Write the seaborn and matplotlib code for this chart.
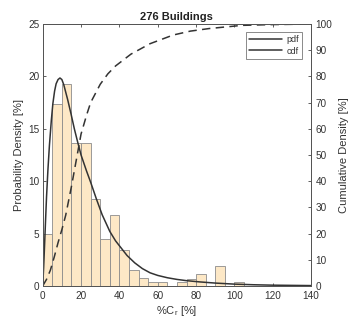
import numpy as np
import pandas as pd
import matplotlib
matplotlib.use("Agg")
import matplotlib.pyplot as plt
from matplotlib.lines import Line2D
import seaborn as sns

# ---- data ----
bin_left = [0, 5, 10, 15, 20, 25, 30, 35, 40, 45, 50, 55, 60, 65, 70, 75, 80, 85, 90, 95, 100]
bin_pct = [5.0, 17.4, 19.3, 13.6, 13.6, 8.3, 4.5, 6.8, 3.4, 1.5, 0.75, 0.35, 0.35, 0.0,
           0.35, 0.7, 1.1, 0.0, 1.9, 0.0, 0.35]

pdf_x = [0, 0.5, 1, 1.5, 2, 2.7, 3.5, 4.5, 5.3, 6.2, 7, 8, 9, 10, 11, 12, 13, 14.8,
         16.5, 18, 20, 22.8, 25, 28, 31, 35, 38, 41, 44, 48, 52, 56, 60, 65, 70, 75,
         82, 90, 100, 110, 120, 130, 140]
pdf_y = [0, 1.8, 4, 6.3, 8.5, 11, 13.4, 15.8, 17.4, 18.6, 19.3, 19.7, 19.85, 19.7,
         19.2, 18.5, 17.8, 16.4, 15.0, 13.9, 12.5, 11.0, 9.9, 8.3, 6.8, 5.2, 4.3, 3.6,
         2.9, 2.2, 1.65, 1.25, 1.0, 0.78, 0.62, 0.5, 0.38, 0.27, 0.17, 0.11, 0.07,
         0.05, 0.03]

cdf_x = [0, 2, 4, 6, 8, 10, 12, 15, 18, 20, 23, 25, 30, 34, 38, 46, 56, 68, 77, 87,
         104, 120, 140]
cdf_y = [0, 2.5, 6, 11, 16.5, 21.5, 27, 38, 50, 58, 65.5, 70, 77, 81, 84, 88.5, 92.5,
         95.8, 97.3, 98.3, 99.5, 99.8, 100]

x_ticks = [0, 20, 40, 60, 80, 100, 120, 140]
y_ticks = [0, 5, 10, 15, 20, 25]
y2_ticks = [0, 10, 20, 30, 40, 50, 60, 70, 80, 90, 100]
title = "276 Buildings"
legend_labels = ["pdf", "cdf"]

# ---- styling ----
sns.set_style("ticks")
plt.rcParams["font.family"] = ["Liberation Sans", "DejaVu Sans"]
plt.rcParams["mathtext.default"] = "regular"

TICK_FS = 7.2
LAB_FS = 8.0
line_col = "#333333"
spine_col = "#555555"
text_col = "#333333"

fig = plt.figure(figsize=(3.5, 3.34), dpi=100)
ax = fig.add_axes([0.122, 0.144, 0.767, 0.784])

df_bins = pd.DataFrame({"center": [b + 2.5 for b in bin_left], "pct": bin_pct})
edges = list(bin_left) + [bin_left[-1] + 5]
sns.histplot(data=df_bins, x="center", weights="pct", bins=edges, ax=ax,
             color="#fde8c6", edgecolor="#8c8c8c", linewidth=0.6, alpha=1.0)

df_pdf = pd.DataFrame({"x": pdf_x, "y": pdf_y})
sns.lineplot(data=df_pdf, x="x", y="y", ax=ax, color=line_col, linewidth=1.1,
             sort=False, estimator=None)

ax.set_xlim(0, 140)
ax.set_ylim(0, 25)
ax.set_xticks(x_ticks)
ax.set_yticks(y_ticks)
ax.set_xlabel("%C$_r$ [%]", fontsize=LAB_FS, labelpad=2, color=text_col)
ax.set_ylabel("Probability Density [%]", fontsize=LAB_FS, labelpad=3, color=text_col)
ax.set_title(title, fontsize=LAB_FS, fontweight="bold", pad=3, color="#222222")

ax2 = ax.twinx()
df_cdf = pd.DataFrame({"x": cdf_x, "y": cdf_y})
sns.lineplot(data=df_cdf, x="x", y="y", ax=ax2, color=line_col, linewidth=1.1,
             linestyle=(0, (5.5, 3.5)), sort=False, estimator=None)
ax2.set_ylim(0, 100)
ax2.set_yticks(y2_ticks)
ax2.set_ylabel("Cumulative Density [%]", fontsize=LAB_FS, labelpad=5, color=text_col)
ax2.set_xlim(0, 140)

for a in (ax, ax2):
    a.tick_params(direction="in", length=2.5, width=0.6, labelsize=TICK_FS,
                  colors="#444444", labelcolor=text_col, pad=2.5)
    for s in a.spines.values():
        s.set_visible(True)
        s.set_color(spine_col)
        s.set_linewidth(0.7)
ax.tick_params(axis="x", top=True, pad=3.5)
ax.tick_params(axis="y", right=False)
ax2.tick_params(axis="y", left=False, pad=3)

handles = [Line2D([0], [0], color=line_col, lw=1.1),
           Line2D([0], [0], color=line_col, lw=1.1)]
leg = ax2.legend(handles, legend_labels, loc="upper right", fontsize=6.5,
                 frameon=True, fancybox=False, edgecolor="#555555",
                 handlelength=3.6, handletextpad=0.5, borderpad=0.35,
                 labelspacing=0.25, borderaxespad=0,
                 bbox_to_anchor=(0.966, 0.969))
leg.get_frame().set_linewidth(0.6)
for t in leg.get_texts():
    t.set_color(text_col)

fig.savefig("out.png", dpi=100)
